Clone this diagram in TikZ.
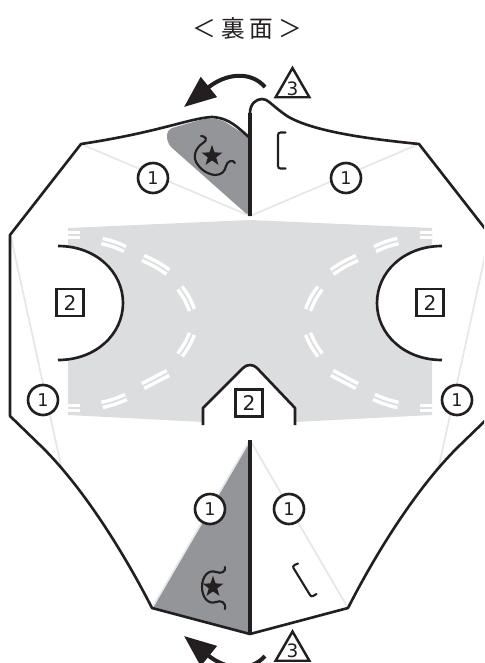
\documentclass[tikz,border=0pt]{standalone}
\usepackage{fontspec}
\setmainfont{DejaVu Sans}
\newfontfamily\cjk{Noto Sans CJK JP}
\usepackage{tikz}
\usetikzlibrary{arrows.meta, positioning, calc, shapes.geometric}
\definecolor{sheet}{HTML}{DCDDDE}
\definecolor{flap}{HTML}{939598}
\definecolor{fold}{HTML}{E6E7E8}
\definecolor{ink}{HTML}{231F20}
\tikzset{
    edge/.style={draw=ink, line width=1.5pt, line join=round},
    spine/.style={draw=ink, line width=1.8pt, line join=round},
    crease/.style={draw=fold, line width=1pt},
    seamout/.style={draw=white, line width=5pt},
    seamin/.style={draw=sheet, line width=1pt},
    curl/.style={draw=ink, line width=1.2pt, line cap=round},
    circ/.style={draw=ink, circle, fill=white, line width=1.5pt, minimum size=0.6cm, inner sep=0, font=\fontsize{10}{10}\selectfont\color{ink}},
    squ/.style={draw=ink, rectangle, fill=white, line width=1.5pt, minimum size=0.54cm, inner sep=0, font=\fontsize{11.5}{11.5}\selectfont\color{ink}},
    tri/.style={draw=ink, regular polygon, regular polygon sides=3, fill=white, line width=1.4pt, minimum size=0.78cm, inner sep=0},
    stamp/.style={star, star points=5, star point ratio=2.5, fill=ink, minimum size=0.44cm, inner sep=0},
    swing/.style={draw=ink, line width=2.3pt, -{Triangle[length=0.64cm, width=0.5cm]}},
}
\begin{document}
\begin{tikzpicture}[x=0.02cm, y=-0.02cm]
\useasboundingbox (0,0) rectangle (484,663);
\clip (0,0) rectangle (484,663);
% gray sheet and its cut-outs
\fill[sheet] (68,228) -- (250,220) -- (432,228) -- (432,415) -- (295,422) -- (203,422) -- (68,415) -- cycle;
\fill[white] (50,246) -- (58,246) .. controls (96,246) and (123,272) .. (123,303) .. controls (123,334) and (96,360) .. (58,360) -- (50,360) -- cycle;
\fill[white] (450,246) -- (442,246) .. controls (404,246) and (377,272) .. (377,303) .. controls (377,334) and (404,360) .. (442,360) -- (450,360) -- cycle;
\fill[white] (203,424) -- (203,408) -- (243,368) .. controls (247,364) and (253,364) .. (257,368) -- (295,408) -- (295,424) -- cycle;
% white seams on the sheet
\foreach \sx/\sy/\ex/\ey/\bx/\by in {
    68/235/80/235/74/235, 102/241/125/249/114/244, 143/258/168/272/156/264, 180/288/192/310/187/298,
    192/334/180/355/187/345, 168/373/143/386/156/380, 126/397/102/405/114/402, 80/408/68/408/74/408}{
    \draw[seamout] (\sx,\sy) .. controls (\bx,\by) .. (\ex,\ey);
    \draw[seamin] (\sx,\sy) .. controls (\bx,\by) .. (\ex,\ey);
    \draw[seamout] (500-\sx,\sy) .. controls (500-\bx,\by) .. (500-\ex,\ey);
    \draw[seamin] (500-\sx,\sy) .. controls (500-\bx,\by) .. (500-\ex,\ey);
}
% dark flaps
\fill[flap] (250,138) -- (230,125) .. controls (222,119) and (212,117) .. (200,120) -- (172,128) .. controls (166,130) and (165,140) .. (171,147) -- (250,217) -- cycle;
\fill[flap] (250,440) -- (152,608) -- (250,634) -- cycle;
% fold lines
\coordinate (topmid) at (250,216);
\coordinate (botmid) at (250,440);
\draw[crease] (topmid) -- (81,144);
\draw[crease] (topmid) -- (419,144);
\draw[crease] (10,233) -- (62,470);
\draw[crease] (490,233) -- (438,470);
\draw[crease] (botmid) -- (152,608);
\draw[crease] (botmid) -- (348,608);
% outline
\draw[edge] (250,138) .. controls (238,128) and (230,118) .. (212,117) .. controls (190,118) and (160,132) .. (81,144) -- (10,235) -- (10,416) -- (43,448) .. controls (85,490) and (125,555) .. (152,608) -- (250,634) -- (348,608) .. controls (375,555) and (415,490) .. (457,448) -- (490,416);
\draw[edge] (250,113) .. controls (250,104) and (256,99) .. (262,99) .. controls (268,99) and (270,104) .. (287,116) .. controls (315,133) and (380,140) .. (419,144) -- (490,235);
\draw[spine] (250,216) -- (250,113);
\draw[spine] (250,440) -- (250,634);
% curves of the sheet
\draw[edge] (58,246) .. controls (96,246) and (123,272) .. (123,303) .. controls (123,334) and (96,360) .. (58,360);
\draw[edge] (442,246) .. controls (404,246) and (377,272) .. (377,303) .. controls (377,334) and (404,360) .. (442,360);
\draw[edge] (203,425) -- (203,408) -- (243,368) .. controls (247,364) and (253,364) .. (257,368) -- (295,408) -- (295,425);
% brackets
\draw[curl] (285.5,132.5) -- (280.5,132.5) .. controls (279,132.5) and (278,133.5) .. (278,135) -- (278,166) .. controls (278,167.5) and (279,168.5) .. (280.5,168.5) -- (285.5,168.5);
\draw[curl] (298,563.5) -- (294.5,565) .. controls (293,566) and (293,567) .. (293.5,568) -- (310,595) .. controls (311,596.5) and (312,596.5) .. (313,596) -- (316.5,594);
% stars and curls
\node[stamp] (star1) at (212,156) {};
\node[stamp] (star2) at (213,587) {};
\draw[curl] (201,136) .. controls (206,136) and (208,140) .. (203,143) .. controls (195,148) and (192,158) .. (198,165) .. controls (203,172) and (211,175) .. (215,175) .. controls (222,175) and (225,171) .. (226,166) .. controls (227,161) and (233,159) .. (235,163);
\draw[curl] (225,567) .. controls (226,572) and (221,574) .. (216,572) .. controls (208,569) and (202,577) .. (202,587) .. controls (202,597) and (208,605) .. (216,602) .. controls (221,600) and (226,602) .. (225,609);
% arrows
\coordinate (arrowtop) at (265,87);
\coordinate (arrowbot) at (265,656);
\draw[swing] (arrowtop) .. controls (250,70) and (225,74) .. (184,107);
\draw[swing] (arrowbot) .. controls (250,673) and (225,669) .. (184,636);
% labels
\node[text=ink, font=\cjk\fontsize{13.5}{13.5}\selectfont] (title) at (247.5,28) {＜\kern0.2em 裏\kern0.2em 面\kern0.2em ＞};
\node[circ] (c1) at (153,178) {1};
\node[circ] (c2) at (346,178) {1};
\node[circ] (c3) at (43,400) {1};
\node[circ] (c4) at (457,400) {1};
\node[circ] (c5) at (210,509) {1};
\node[circ] (c6) at (289,509) {1};
\node[squ] (s1) at (70,302.5) {2};
\node[squ] (s2) at (430,302.5) {2};
\node[squ] (s3) at (249,403) {2};
\node[tri] (t1) at (292.5,87.5) {};
\node[tri] (t2) at (292.5,651) {};
\node[font=\fontsize{10.5}{10.5}\selectfont, text=ink] (n1) at (292.5,88.5) {3};
\node[font=\fontsize{10.5}{10.5}\selectfont, text=ink] (n2) at (292.5,651) {3};
\end{tikzpicture}
\end{document}
